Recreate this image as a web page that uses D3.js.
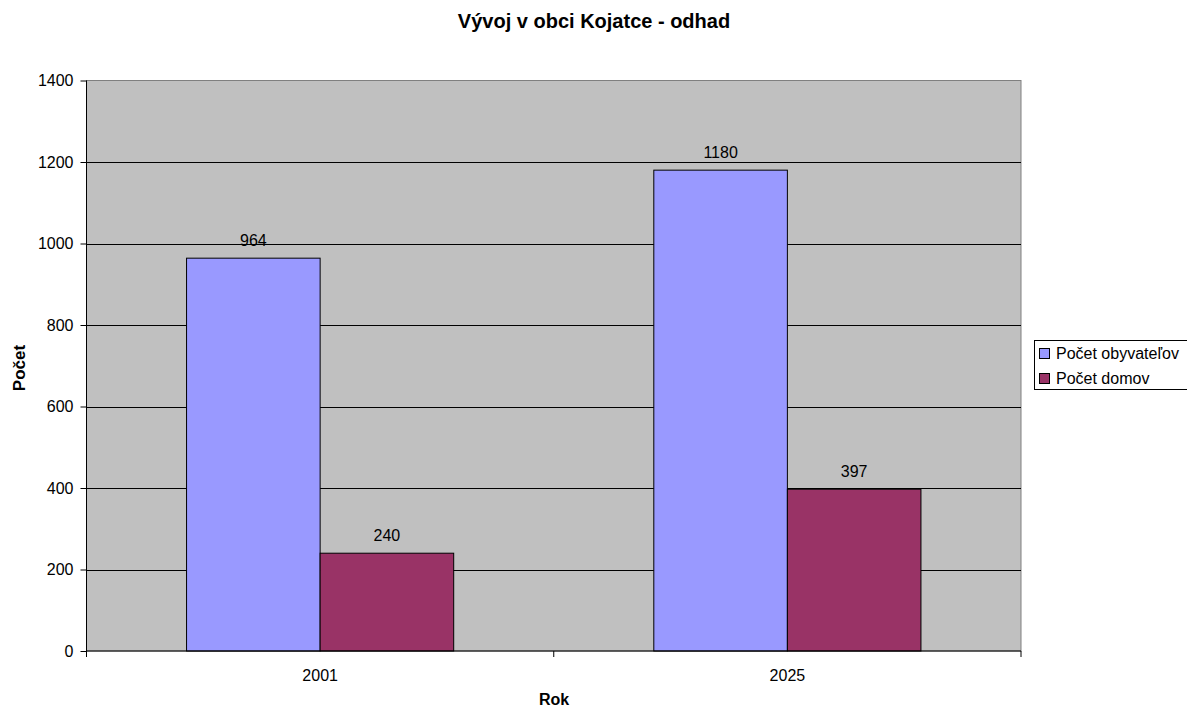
<!DOCTYPE html>
<meta charset="utf-8">
<title>Vývoj v obci Kojatce</title>
<style>
body {
  margin: 0;
  background: #fff;
}
text {
  font-family: "Liberation Sans", Arial, sans-serif;
}
</style>
<body>
<script src="https://cdnjs.cloudflare.com/ajax/libs/d3/7.8.5/d3.min.js"></script>
<script>
var years = ["2001", "2025"];
var seriesNames = ["Počet obyvateľov", "Počet domov"];
var seriesColors = ["#9999ff", "#993366"];
var obyvatelia = [964, 1180];
var domy = [240, 397];
var yTicks = [0, 200, 400, 600, 800, 1000, 1200, 1400];

var w = 1187,
    h = 710,
    pLeft = 86.5,
    pTop = 80.5,
    pRight = 1021,
    pBottom = 651;

var svg = d3.select("body").append("svg")
    .attr("width", w)
    .attr("height", h);

var x = d3.scaleBand().domain(years).range([pLeft, pRight]);
var y = d3.scaleLinear().domain([0, 1400]).range([pBottom, pTop]);

// bars take 267 of each 467 px category
var inner = d3.scaleBand().domain([0, 1])
    .range([x.bandwidth() * 100 / 467, x.bandwidth() * 367 / 467]);

svg.append("rect")
    .attr("x", pLeft)
    .attr("y", pTop)
    .attr("width", pRight - pLeft)
    .attr("height", pBottom - pTop)
    .style("fill", "#c0c0c0")
    .style("stroke", "#808080")
    .style("stroke-width", 1);

svg.append("g").selectAll("line")
    .data(yTicks.slice(1, -1))
  .enter().append("line")
    .attr("x1", pLeft)
    .attr("x2", pRight)
    .attr("y1", function(d) { return Math.round(y(d)) + 0.5; })
    .attr("y2", function(d) { return Math.round(y(d)) + 0.5; })
    .style("stroke", "#000")
    .style("stroke-width", 1);

var data = [];
years.forEach(function(yr, i) {
  data.push({ year: yr, s: 0, v: obyvatelia[i] });
  data.push({ year: yr, s: 1, v: domy[i] });
});

svg.append("g").selectAll("rect")
    .data(data)
  .enter().append("rect")
    .attr("x", function(d) { return x(d.year) + inner(d.s); })
    .attr("y", function(d) { return y(d.v); })
    .attr("width", inner.bandwidth())
    .attr("height", function(d) { return y(0) - y(d.v); })
    .style("fill", function(d) { return seriesColors[d.s]; })
    .style("stroke", "#000")
    .style("stroke-width", 1);

svg.append("g").selectAll("text")
    .data(data)
  .enter().append("text")
    .attr("x", function(d) { return x(d.year) + inner(d.s) + inner.bandwidth() / 2; })
    .attr("y", function(d) { return y(d.v) - 12; })
    .attr("text-anchor", "middle")
    .style("font-size", "16px")
    .text(function(d) { return d.v; });

var yAxis = svg.append("g")
    .attr("transform", "translate(" + pLeft + ",0)")
    .call(d3.axisLeft(y).tickValues(yTicks).tickFormat(d3.format("d")).tickSize(6).tickPadding(7));
yAxis.select(".domain").attr("d", "M0," + pTop + "V" + pBottom).style("stroke", "#000");
yAxis.selectAll("text").style("font-size", "16px").attr("font-family", null);

var xAxis = svg.append("g")
    .attr("transform", "translate(0," + pBottom + ")");
xAxis.append("line")
    .attr("x1", pLeft).attr("x2", pRight)
    .style("stroke", "#000");
xAxis.selectAll("line.tick")
    .data([pLeft, pLeft + x.bandwidth(), pRight])
  .enter().append("line")
    .attr("class", "tick")
    .attr("x1", function(d) { return d; })
    .attr("x2", function(d) { return d; })
    .attr("y1", 0)
    .attr("y2", 6)
    .style("stroke", "#000");
xAxis.selectAll("text")
    .data(years)
  .enter().append("text")
    .attr("x", function(d) { return x(d) + x.bandwidth() / 2; })
    .attr("y", 30)
    .attr("text-anchor", "middle")
    .style("font-size", "16px")
    .text(function(d) { return d; });

svg.append("text")
    .attr("x", 594)
    .attr("y", 28)
    .attr("text-anchor", "middle")
    .style("font-size", "20px")
    .style("font-weight", "bold")
    .text("Vývoj v obci Kojatce - odhad");

svg.append("text")
    .attr("x", 554)
    .attr("y", 705)
    .attr("text-anchor", "middle")
    .style("font-size", "16px")
    .style("font-weight", "bold")
    .text("Rok");

svg.append("text")
    .attr("transform", "translate(25,368)rotate(-90)")
    .attr("text-anchor", "middle")
    .style("font-size", "17px")
    .style("font-weight", "bold")
    .text("Počet");

var legend = svg.append("g").attr("transform", "translate(1034,340)");
legend.append("rect")
    .attr("x", 0.5)
    .attr("y", 0.5)
    .attr("width", 170)
    .attr("height", 49)
    .style("fill", "#fff")
    .style("stroke", "#000");
seriesNames.forEach(function(name, i) {
  var g = legend.append("g").attr("transform", "translate(5," + (i * 25 + 6) + ")");
  g.append("rect")
    .attr("x", 0.5)
    .attr("y", 2.5)
    .attr("width", 10)
    .attr("height", 10)
    .style("fill", seriesColors[i])
    .style("stroke", "#000");
  g.append("text")
    .attr("x", 17)
    .attr("y", 13)
    .style("font-size", "16px")
    .text(name);
});
</script>
